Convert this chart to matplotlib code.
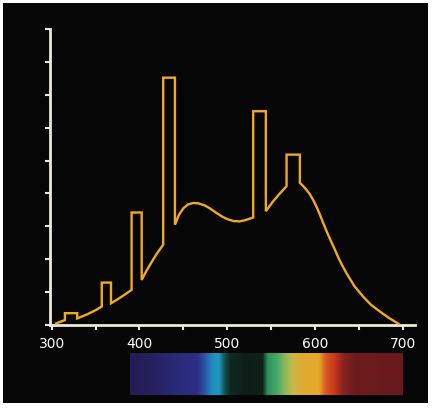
import matplotlib
matplotlib.use("Agg")
import matplotlib.pyplot as plt
from matplotlib.patches import Rectangle
from matplotlib.colors import LinearSegmentedColormap, to_rgb
import numpy as np

# ---- data: emission spectrum of a fluorescent lamp (vertices of the trace) ----
wavelength = [305, 315, 315, 329, 329, 340, 350, 357, 357, 367.5, 367.5, 375, 383, 391,
              391, 402.5, 402.5, 408, 414, 420, 427, 427, 440.4, 440.4,
              445, 450, 455, 461, 467, 474, 480, 487, 494, 500, 507, 514, 521, 529.6,
              529.6, 544, 544, 552, 560, 567.6, 567.6, 582.8, 582.8,
              586, 590, 594, 598, 602, 606, 610, 615, 621, 628, 636, 645, 655, 664, 674, 684, 695]
intensity = [0.05, 0.15, 0.36, 0.36, 0.20, 0.32, 0.45, 0.56, 1.29, 1.29, 0.66, 0.78, 0.92, 1.07,
             3.42, 3.42, 1.37, 1.65, 1.92, 2.18, 2.44, 7.52, 7.52, 3.05,
             3.35, 3.55, 3.66, 3.71, 3.70, 3.64, 3.55, 3.42, 3.30, 3.22, 3.16, 3.15, 3.19, 3.27,
             6.50, 6.50, 3.46, 3.75, 4.00, 4.22, 5.18, 5.18, 4.32,
             4.24, 4.12, 3.98, 3.80, 3.58, 3.33, 3.06, 2.74, 2.39, 1.97, 1.57, 1.18, 0.86, 0.61, 0.41, 0.22, 0.04]

x_major = [300, 400, 500, 600, 700]
x_minor = [350, 450, 550, 650]
y_ticks = [0, 1, 2, 3, 4, 5, 6, 7, 8, 9]

# visible-spectrum colour band
spectrum_nm = [389, 420, 440, 465, 472, 482, 490, 497, 503, 520, 540, 546, 556, 566, 575,
               585, 605, 612, 622, 632, 645, 700]
spectrum_colors = ["#231d55", "#272262", "#2a2a78", "#2c2e85", "#2f4aa0", "#1f8ac0", "#2098c0",
                   "#15504f", "#0f2a22", "#0e1e18", "#0f2218", "#2f9060", "#40a868", "#90b858",
                   "#c8b848", "#e0aa30", "#e6a82a", "#d85a22", "#cc3a1e", "#8a2420", "#6c1c1c",
                   "#6a1a1c"]

W, H = 432, 408
fig = plt.figure(figsize=(W / 100, H / 100), dpi=100, facecolor="white")
fig.patches.append(Rectangle((3 / W, 5 / H), 425 / W, 400 / H, transform=fig.transFigure,
                             facecolor="#060606", edgecolor="none", zorder=-10))

axis_col = "#ebe9da"
line_col = "#f2aa1c"

xlim = (298, 714)
ax = fig.add_axes([50 / W, (H - 325) / H, (415 - 50) / W, (325 - 29) / H])
ax.set_facecolor("none")
ax.plot(wavelength, intensity, color=line_col, lw=1.7, solid_joinstyle="miter", zorder=3)
ax.set_xlim(*xlim)
ax.set_ylim(0, 9)
for s in ["top", "right"]:
    ax.spines[s].set_visible(False)
for s in ["left", "bottom"]:
    ax.spines[s].set_color(axis_col)
    ax.spines[s].set_linewidth(2.0)
ax.set_xticks(x_major)
ax.set_xticks(x_minor, minor=True)
ax.set_yticks(y_ticks)
ax.set_yticklabels([])
ax.tick_params(axis="x", which="both", direction="out", length=3.5, width=1.5,
               color=axis_col, labelcolor="white", labelsize=10, pad=5)
ax.tick_params(axis="y", direction="out", length=3.5, width=1.5, color=axis_col)

# spectrum band
bx = fig.add_axes([50 / W, (H - 395) / H, (415 - 50) / W, 42 / H])
bx.set_facecolor("none")
nm = np.linspace(spectrum_nm[0], spectrum_nm[-1], 600)
pos = [(v - spectrum_nm[0]) / (spectrum_nm[-1] - spectrum_nm[0]) for v in spectrum_nm]
cmap = LinearSegmentedColormap.from_list("spec", list(zip(pos, [to_rgb(c) for c in spectrum_colors])))
bx.imshow(nm[None, :], cmap=cmap, aspect="auto",
          extent=(spectrum_nm[0], spectrum_nm[-1], 0, 1), vmin=spectrum_nm[0], vmax=spectrum_nm[-1])
bx.set_xlim(*xlim)
bx.set_ylim(0, 1)
bx.axis("off")

fig.savefig("out.png", dpi=100, facecolor="white")
